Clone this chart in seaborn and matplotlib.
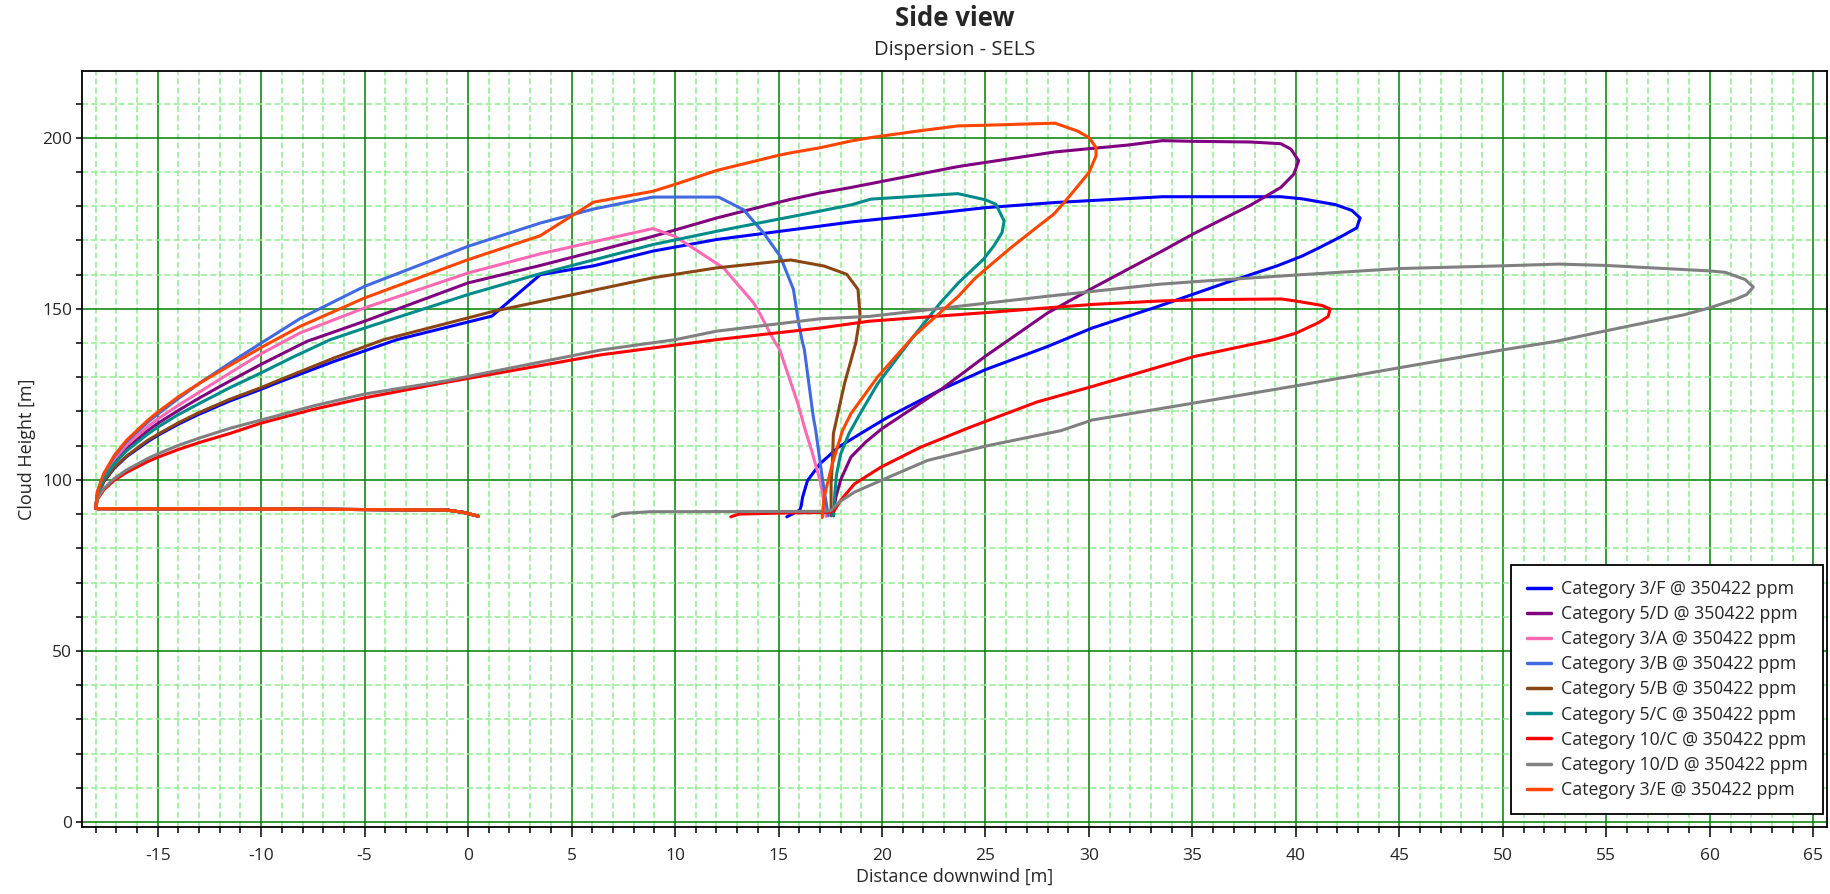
import numpy as np
import pandas as pd
import matplotlib
matplotlib.use("Agg")
import matplotlib.pyplot as plt
import seaborn as sns
from matplotlib.ticker import MultipleLocator

# ---------------- data ----------------
labels = ["Category 3/F @ 350422 ppm", "Category 5/D @ 350422 ppm", "Category 3/A @ 350422 ppm",
          "Category 3/B @ 350422 ppm", "Category 5/B @ 350422 ppm", "Category 5/C @ 350422 ppm",
          "Category 10/C @ 350422 ppm", "Category 10/D @ 350422 ppm", "Category 3/E @ 350422 ppm"]
colors = ["#0000FF", "#800080", "#FF69B4", "#4169E1", "#8B4513", "#008B8B", "#FF0000", "#808080", "#FF4500"]

# shared ground-level segment from the upwind cusp back to the release point
tail_x = [-17.9, -10.0, -1.04, -0.23, 0.49]
tail_y = [91.6, 91.5, 91.2, 90.5, 89.4]

cat3F_x = [15.4, 16.03, 16.1, 16.16, 16.4, 17.0, 17.9, 19.2, 20.3, 22.82, 24.98, 28.0, 30.15, 33.38, 36.6, 39.1,
           40.28, 41.1, 42.2, 42.94, 43.1, 42.7, 41.9, 40.28, 39.27, 37.0, 33.56, 28.36, 25.0, 21.72, 18.5, 17.0,
           12.02, 8.93, 6.07, 3.49, 1.15, -3.44, -6.5, -9.09, -10.0, -11.5, -13.0, -14.0, -15.0, -15.5, -16.5,
           -17.1, -17.6, -17.9, -18.0]
cat3F_y = [89.2, 91.2, 92.5, 94.9, 99.8, 104.7, 109.6, 114.4, 118.4, 126.3, 132.2, 139.0, 144.4, 150.8, 157.6, 162.6,
           165.4, 167.8, 171.2, 173.7, 176.6, 178.8, 180.5, 182.2, 182.8, 182.8, 182.8, 181.1, 179.6, 177.4, 175.4, 174.2,
           170.3, 166.9, 162.6, 160.0, 147.9, 141.0, 134.6, 128.7, 126.5, 123.1, 119.2, 116.3, 113.0, 111.1, 106.8,
           103.4, 99.5, 95.6, 91.7]

cat5D_x = [17.66, 17.66, 17.77, 18.0, 18.5, 19.2, 20.0, 22.82, 24.98, 28.0, 30.3, 33.5, 35.0, 37.8, 39.27, 39.9,
           40.13, 39.76, 39.27, 37.8, 35.0, 33.56, 31.87, 28.36, 23.66, 18.5, 17.0, 15.56, 12.02, 8.93, 3.49, 0.0,
           -5.0, -7.79, -10.0, -12.0, -13.0, -14.0, -15.0, -15.5, -16.5, -17.1, -17.6, -17.9, -18.0]
cat5D_y = [89.5, 91.0, 94.9, 100.0, 106.7, 111.0, 115.0, 126.3, 136.1, 148.8, 156.5, 166.8, 171.8, 180.3, 185.5, 189.4,
           193.3, 196.7, 198.3, 198.8, 199.0, 199.2, 197.9, 195.9, 191.6, 185.5, 183.9, 182.0, 176.6, 171.2, 162.7, 157.6,
           146.4, 140.5, 133.8, 127.3, 123.9, 120.3, 116.5, 114.3, 109.2, 105.3, 100.8, 96.2, 91.7]

cat3A_x = [17.3, 17.05, 16.6, 16.3, 15.93, 15.06, 14.76, 13.99, 13.79, 12.34, 10.0, 8.93, 6.06, 3.49, 0.0, -5.0,
           -8.11, -10.0, -11.5, -13.0, -14.0, -15.0, -15.5, -16.5, -17.1, -17.6, -17.9, -18.0]
cat3A_y = [89.3, 98.8, 108.6, 114.4, 122.4, 138.0, 141.0, 149.8, 151.8, 162.0, 171.2, 173.5, 169.6, 166.1, 160.5, 150.3,
           143.0, 136.9, 131.3, 125.6, 121.8, 117.8, 115.5, 110.2, 106.0, 101.2, 96.5, 91.7]

cat3B_x = [17.4, 17.11, 16.8, 16.68, 16.25, 16.13, 15.97, 15.72, 15.08, 14.28, 13.31, 12.1, 8.93, 6.06, 3.49, 0.0,
           -5.0, -8.11, -10.0, -11.5, -12.8, -14.0, -15.0, -15.5, -16.5, -17.1, -17.6, -17.9, -18.0]
cat3B_y = [89.5, 100.8, 114.4, 118.4, 138.0, 141.0, 145.9, 155.7, 165.4, 172.2, 179.0, 182.7, 182.7, 179.2, 175.1, 168.3,
           156.6, 147.2, 140.0, 134.2, 129.0, 123.8, 119.2, 116.8, 111.2, 106.8, 101.7, 96.7, 91.7]

cat5B_x = [17.54, 17.54, 17.6, 17.65, 18.19, 18.73, 18.94, 18.84, 18.3, 17.22, 15.6, 12.02, 8.93, 1.23, -4.08,
           -6.5, -9.2, -10.0, -11.5, -13.0, -14.0, -15.0, -15.5, -16.5, -17.1, -17.6, -17.9, -18.0]
cat5B_y = [89.5, 98.8, 104.7, 113.5, 128.2, 140.0, 147.8, 155.7, 160.1, 162.5, 164.3, 162.0, 159.1, 149.3, 141.0,
           135.6, 129.0, 127.0, 123.6, 119.7, 116.7, 113.3, 111.5, 107.0, 103.6, 99.6, 95.7, 91.7]

cat5C_x = [17.66, 17.72, 17.8, 18.0, 18.4, 19.0, 19.8, 21.53, 22.82, 23.69, 24.9, 25.4, 25.8, 25.9, 25.5, 25.0,
           23.66, 19.47, 18.5, 17.0, 12.02, 8.93, 3.49, 0.0, -5.0, -6.66, -8.5, -10.0, -11.5, -13.0, -14.0, -15.0,
           -15.5, -16.5, -17.1, -17.6, -17.9, -18.0]
cat5C_y = [89.5, 96.0, 101.5, 107.5, 113.5, 120.0, 128.2, 142.0, 151.8, 157.6, 164.5, 168.4, 172.3, 175.7, 180.6, 181.9,
           183.7, 182.1, 180.4, 178.6, 172.7, 168.8, 160.3, 154.2, 144.4, 141.0, 135.8, 131.3, 127.0, 122.3, 119.1, 115.4,
           113.3, 108.5, 104.7, 100.3, 96.0, 91.7]

cat10C_x = [12.69, 13.1, 15.0, 17.4, 17.69, 18.0, 18.66, 19.94, 21.88, 24.3, 27.5, 30.15, 35.1, 38.93, 40.0, 41.07,
            41.56, 41.65, 41.26, 40.0, 39.3, 35.43, 33.38, 30.15, 24.76, 19.38, 17.0, 12.0, 6.44, -1.0, -5.0, -7.5,
            -10.0, -11.5, -13.0, -14.0, -15.0, -15.5, -16.5, -17.1, -17.6, -17.9, -18.0]
cat10C_y = [89.2, 90.0, 90.3, 90.5, 91.0, 94.0, 98.8, 103.7, 109.6, 115.5, 122.8, 127.3, 136.1, 141.0, 142.9, 145.9,
            147.8, 150.0, 151.0, 152.3, 152.9, 152.7, 152.3, 151.3, 148.8, 146.4, 144.4, 141.0, 136.6, 128.6, 124.0, 120.6,
            116.6, 113.6, 110.9, 108.9, 106.6, 105.3, 102.2, 99.9, 97.1, 94.4, 91.7]

cat10D_x = [6.98, 7.41, 8.8, 17.22, 17.53, 17.93, 18.66, 19.94, 22.2, 25.1, 28.64, 30.15, 35.0, 40.0, 45.0, 49.98,
            52.55, 54.98, 58.77, 59.98, 61.2, 61.78, 62.1, 61.7, 60.74, 60.0, 55.0, 52.7, 50.0, 45.0, 40.0, 35.43,
            33.38, 28.0, 19.38, 17.0, 12.02, 10.0, 6.44, -1.04, -5.0, -7.5, -10.0, -11.5, -13.0, -14.0, -15.0, -15.5,
            -16.5, -17.1, -17.6, -17.9, -18.0]
cat10D_y = [89.2, 90.2, 90.7, 90.8, 91.0, 93.5, 96.4, 99.8, 105.7, 110.0, 114.4, 117.5, 122.4, 127.5, 132.8, 138.0,
            140.5, 143.6, 148.3, 150.3, 152.7, 154.2, 156.4, 158.6, 160.7, 161.1, 162.7, 163.1, 162.6, 161.8, 159.9, 158.1,
            157.2, 153.7, 147.8, 147.1, 143.5, 141.0, 138.0, 129.0, 125.1, 121.6, 117.5, 115.1, 112.2, 110.1, 107.6, 106.2,
            102.9, 100.4, 97.5, 94.6, 91.7]

cat3E_x = [17.11, 17.2, 17.6, 18.09, 18.5, 19.8, 21.53, 23.69, 24.46, 25.0, 26.23, 27.36, 28.3, 28.8, 29.6, 30.0,
           30.34, 30.34, 30.0, 29.45, 28.36, 25.0, 23.66, 21.72, 19.47, 18.5, 17.0, 15.56, 15.0, 12.02, 10.0, 8.93,
           6.06, 3.49, 0.0, -5.0, -8.11, -10.0, -11.5, -13.0, -14.0, -15.0, -15.5, -16.5, -17.1, -17.6, -17.9, -18.0]
cat3E_y = [89.0, 94.9, 104.7, 114.4, 119.4, 130.2, 142.0, 153.7, 158.7, 161.6, 167.9, 173.3, 177.7, 181.1, 186.9, 189.9,
           194.7, 197.2, 200.1, 202.0, 204.3, 203.7, 203.5, 202.0, 200.1, 199.1, 197.1, 195.6, 194.9, 190.5, 186.4, 184.4,
           181.2, 171.4, 164.4, 153.2, 144.9, 138.7, 133.5, 128.2, 124.3, 119.8, 117.3, 111.6, 107.1, 101.9, 96.8, 91.7]

series_x = [cat3F_x, cat5D_x, cat3A_x, cat3B_x, cat5B_x, cat5C_x, cat10C_x, cat10D_x, cat3E_x]
series_y = [cat3F_y, cat5D_y, cat3A_y, cat3B_y, cat5B_y, cat5C_y, cat10C_y, cat10D_y, cat3E_y]

x_ticks = [-15, -10, -5, 0, 5, 10, 15, 20, 25, 30, 35, 40, 45, 50, 55, 60, 65]
y_ticks = [0, 50, 100, 150, 200]

# ---------------- build long-form table ----------------
rows = []
for lab, xs, ys in zip(labels, series_x, series_y):
    xs_full = list(xs) + tail_x
    ys_full = list(ys) + tail_y
    for i, (xv, yv) in enumerate(zip(xs_full, ys_full)):
        rows.append({"series": lab, "order": i, "x": xv, "y": yv})
df = pd.DataFrame(rows)

# ---------------- plot ----------------
sns.set_theme(style="white")
plt.rcParams["font.family"] = ["Open Sans", "DejaVu Sans"]
plt.rcParams["axes.unicode_minus"] = False

W, H, DPI = 1831, 894, 100
fig = plt.figure(figsize=(W / DPI, H / DPI), dpi=DPI)
ax = fig.add_axes([81.7 / W, 1 - 826.7 / H, (1827.4 - 81.7) / W, (826.7 - 71.2) / H])

ax.set_xlim(-18.67, 65.68)
ax.set_ylim(-1.4, 219.5)

ax.xaxis.set_major_locator(MultipleLocator(5))
ax.xaxis.set_minor_locator(MultipleLocator(1))
ax.yaxis.set_major_locator(MultipleLocator(50))
ax.yaxis.set_minor_locator(MultipleLocator(10))
ax.set_xticks(x_ticks)
ax.set_yticks(y_ticks)

ax.set_axisbelow(True)
ax.grid(which="minor", color="#90EE90", linestyle=(0, (4, 2)), linewidth=1.1)
ax.grid(which="major", color="#008000", linestyle="-", linewidth=1.1)

sns.lineplot(data=df, x="x", y="y", hue="series", hue_order=labels, palette=colors,
             sort=False, estimator=None, linewidth=2.2, ax=ax, legend=True)

for sp in ax.spines.values():
    sp.set_color("black")
    sp.set_linewidth(1.3)

ax.tick_params(axis="x", which="major", direction="out", length=7, width=1.1, color="black",
               labelsize=12.5, pad=8, bottom=True)
ax.tick_params(axis="x", which="minor", direction="out", length=4, width=1.1, color="black", bottom=True)
ax.tick_params(axis="y", which="major", direction="out", length=4, width=1.1, color="black",
               labelsize=12.5, pad=3, left=True)
ax.tick_params(axis="y", which="minor", direction="out", length=4, width=1.1, color="black", left=True)

ax.set_xlabel("Distance downwind [m]", fontsize=13, labelpad=3)
ax.set_ylabel("Cloud Height [m]", fontsize=13, labelpad=4)

cx = (81.7 + 1827.4) / 2 / W
fig.text(cx, 1 - 18 / H, "Side view", ha="center", va="center", fontsize=18.5, fontweight="bold")
fig.text(cx, 1 - 50 / H, "Dispersion - SELS", ha="center", va="center", fontsize=14.5)

leg = ax.legend(loc="lower right", bbox_to_anchor=(0.9975, 0.0168), borderaxespad=0,
                fontsize=12.8, frameon=True, fancybox=False, framealpha=1, edgecolor="black",
                handlelength=1.35, handletextpad=0.6, labelspacing=0.4, borderpad=0.85)
leg.get_frame().set_linewidth(1.3)
for h in leg.get_lines():
    h.set_linewidth(2.5)

fig.savefig("out.png", dpi=DPI)
